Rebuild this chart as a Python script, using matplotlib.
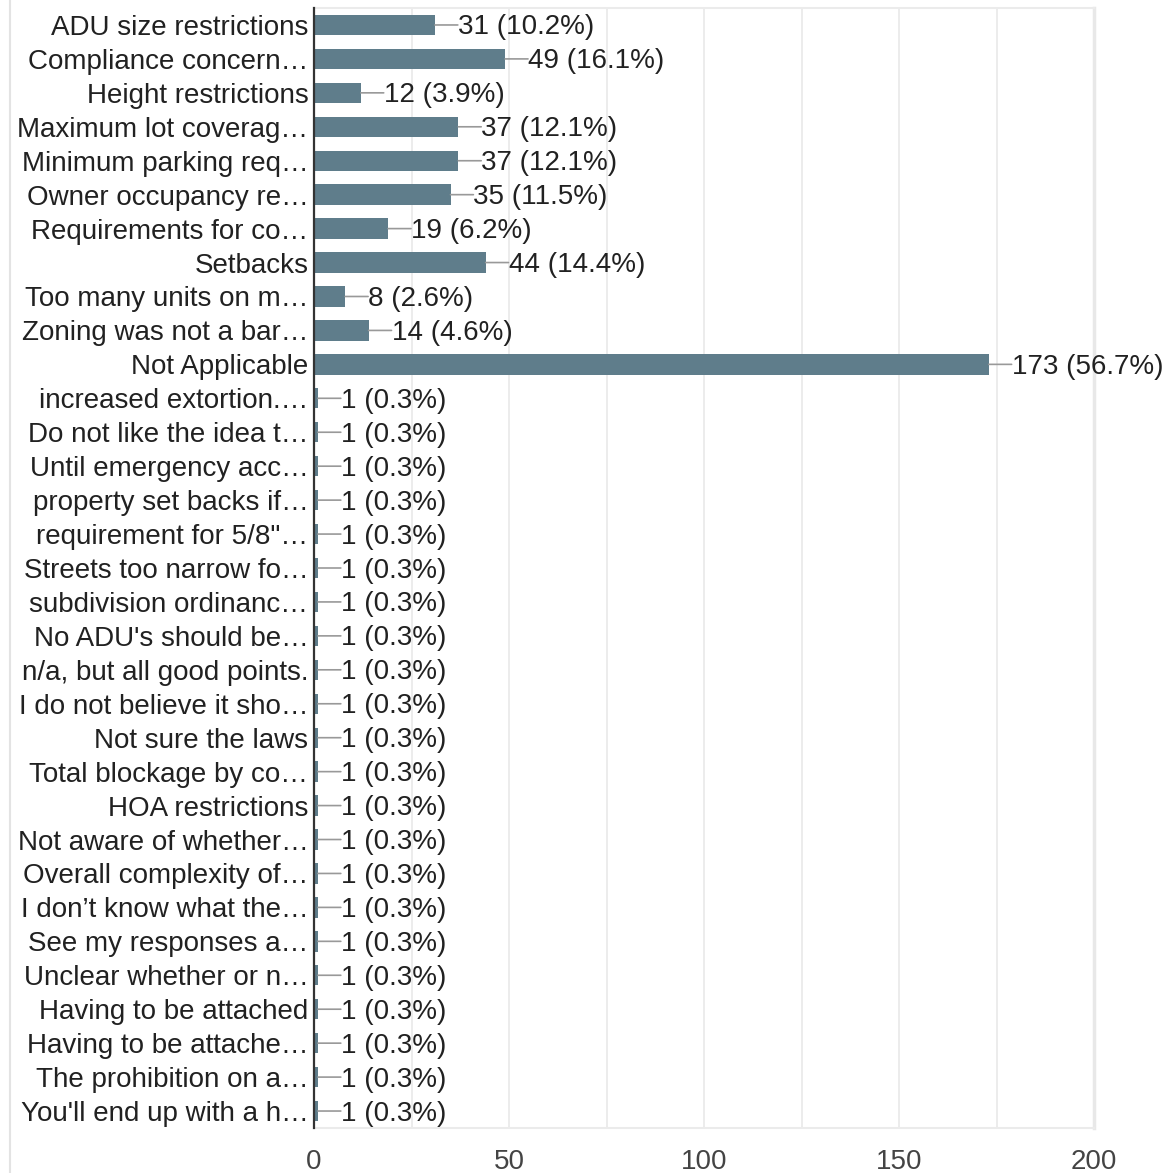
import matplotlib.pyplot as plt
from matplotlib.lines import Line2D
from matplotlib.ticker import MultipleLocator

plt.rcParams['font.family'] = ['Liberation Sans', 'DejaVu Sans']

labels = [
    "ADU size restrictions", "Compliance concern…", "Height restrictions",
    "Maximum lot coverag…", "Minimum parking req…", "Owner occupancy re…",
    "Requirements for co…", "Setbacks", "Too many units on m…",
    "Zoning was not a bar…", "Not Applicable", "increased extortion.…",
    "Do not like the idea t…", "Until emergency acc…", "property set backs if…",
    "requirement for 5/8\"…", "Streets too narrow fo…", "subdivision ordinanc…",
    "No ADU's should be…", "n/a, but all good points.", "I do not believe it sho…",
    "Not sure the laws", "Total blockage by co…", "HOA restrictions",
    "Not aware of whether…", "Overall complexity of…", "I don’t know what the…",
    "See my responses a…", "Unclear whether or n…", "Having to be attached",
    "Having to be attache…", "The prohibition on a…", "You'll end up with a h…",
]
counts = [31, 49, 12, 37, 37, 35, 19, 44, 8, 14, 173] + [1] * 22
percents = [10.2, 16.1, 3.9, 12.1, 12.1, 11.5, 6.2, 14.4, 2.6, 4.6, 56.7] + [0.3] * 22

bar_color = "#5f7d8b"
grid_color = "#ebebeb"
fs = 20

fig = plt.figure(figsize=(11.65, 11.73), dpi=100)
ax = fig.add_axes([314 / 1165, 45 / 1173, 780 / 1165, 1120 / 1173])

y = list(range(len(labels)))
ax.barh(y, counts, height=0.6, color=bar_color, zorder=3)

for yi, c, p in zip(y, counts, percents):
    ax.annotate("", xy=(c, yi), xytext=(16.5, 0), textcoords="offset points",
                arrowprops=dict(arrowstyle="-", color="#999999", lw=1.2,
                                shrinkA=0, shrinkB=0), zorder=4)
    ax.annotate(f"{c} ({p}%)", xy=(c, yi), xytext=(16.5, -1.8),
                textcoords="offset points", va="center", ha="left",
                fontsize=fs, color="#212121", zorder=5)

ax.set_xlim(0, 200)
ax.set_ylim(len(labels) - 0.5, -0.5)
ax.set_yticks(y)
ax.set_yticklabels(labels, fontsize=fs, color="#212121")
ax.xaxis.set_major_locator(MultipleLocator(50))
ax.xaxis.set_minor_locator(MultipleLocator(25))
ax.tick_params(axis="x", which="both", length=0, pad=15, labelsize=fs,
               labelcolor="#444444")
ax.tick_params(axis="y", length=0, pad=4)
ax.grid(axis="x", which="both", color=grid_color, lw=1.3, zorder=0)

ax.spines["left"].set_color("#333333")
ax.spines["left"].set_linewidth(1.6)
ax.spines["left"].set_zorder(6)
for s in ["top", "bottom"]:
    ax.spines[s].set_color(grid_color)
    ax.spines[s].set_linewidth(1.5)
ax.spines["right"].set_color("#e8e8e8")
ax.spines["right"].set_linewidth(2.5)

fig.add_artist(Line2D([10 / 1165, 10 / 1165], [0, 1], color="#e3e3e3", lw=1.5))

fig.savefig("out.png", dpi=100)
